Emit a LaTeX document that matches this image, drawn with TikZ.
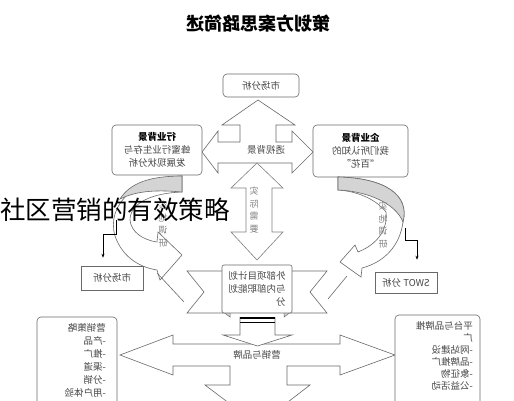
\documentclass[tikz,border=0pt]{standalone}
\usepackage{fontspec}
\setmainfont{Noto Sans CJK SC}
\usetikzlibrary{positioning,arrows.meta}
\definecolor{linegray}{RGB}{105,105,105}
\definecolor{textgray}{RGB}{70,70,70}
\definecolor{shadegray}{RGB}{212,212,212}

\begin{document}
\begin{tikzpicture}[x=1pt,y=-1pt,
  mirtext/.style={xscale=-1},
  txt/.style={mirtext,text=textgray,font=\fontsize{9.5}{13}\selectfont},
  rbox/.style={draw=linegray,rounded corners=4pt,fill=white,line width=0.6pt},
  sbox/.style={draw=linegray,fill=white,line width=0.6pt},
  blockarrow/.style={draw=linegray,fill=white,line width=0.6pt,line join=miter},
  curvearrow/.style={draw=linegray,fill=white,line width=0.6pt},
  vtext/.style={mirtext,text=gray,font=\fontsize{9}{12.5}\selectfont,align=center,inner sep=0pt},
  conn/.style={draw=black,line width=0.5pt,-{Stealth[length=4pt,width=3pt]}}]

  \clip (0,0) rectangle (514,400);
  \fill[white] (0,0) rectangle (514,400);

  % Title
  \node[mirtext,font=\fontsize{18}{20}\selectfont\bfseries] (title) at (258,24) {策划方案思路简述};

  % Top arrows
  \draw[blockarrow] (202,152) -- (218,131) -- (218,142) -- (240,142) -- (240,125) -- (222,125)
    -- (258,100) -- (295,125) -- (276,125) -- (276,142) -- (292,142) -- (292,131) -- (313,152)
    -- (292,173) -- (292,163) -- (218,163) -- (218,173) -- cycle;
  \node[txt] (look) at (266,150) {透视背景};
  \draw[blockarrow,draw=gray] (257,163) -- (283,188) -- (272,188) -- (272,232) -- (283,232)
    -- (257,260) -- (231,232) -- (246,232) -- (246,188) -- (231,188) -- cycle;
  \node[vtext] (need) at (254,210) {实\\际\\需\\要};

  % Boxes
  \node[rbox,txt,minimum width=76pt,minimum height=23pt] (mkt) at (261,85.5) {市场分析};
  \node[rbox,txt,align=center,minimum width=90pt,minimum height=50pt] (indbg) at (157,150)
    {\textbf{\color{black}行业背景}\\蜂蜜行业生存与\\发展现状分析};
  \node[rbox,txt,align=center,minimum width=95pt,minimum height=52pt] (corpbg) at (360.5,151)
    {\textbf{\color{black}企业背景}\\我们所认知的\\“百花”};

  % Curved arrows
  \draw[curvearrow] (182,176) .. controls (135,177) and (106,205) .. (115,236)
    .. controls (122,256) and (138,267) .. (157,270) -- (160,280) -- (182,255) -- (158,232)
    -- (157,242) .. controls (143,240) and (131,232) .. (130,220)
    .. controls (130,203) and (152,193) .. (182,192) -- cycle;
  \fill[shadegray,draw=linegray,line width=0.6pt] (182,176) .. controls (150,176) and (130,183) .. (120,199)
    .. controls (138,190) and (160,190) .. (182,192) -- cycle;
  \draw[linegray,line width=0.6pt] (157,273) -- (184,302);
  \node[vtext] (surveyL) at (163,224) {实\\地\\调\\研};

  \draw[curvearrow] (338,177) .. controls (385,178) and (410,195) .. (403,222)
    .. controls (400,245) and (385,262) .. (362,268) -- (361,277) -- (340,262) -- (355,245)
    -- (358,252) .. controls (378,244) and (388,229) .. (386,212)
    .. controls (375,198) and (355,191) .. (338,190) -- cycle;
  \fill[shadegray,draw=linegray,line width=0.6pt] (338,177) .. controls (385,178) and (410,195) .. (403,222)
    .. controls (395,202) and (365,191) .. (338,190) -- cycle;
  \draw[linegray,line width=0.6pt] (347,276) -- (328,299);
  \node[vtext] (surveyR) at (383,225) {实\\地\\调\\研};

  % Side boxes
  \node[sbox,txt,minimum width=62pt,minimum height=24pt] (mktL) at (112,278) {市场分析};
  \node[sbox,txt,minimum width=62pt,minimum height=21pt] (swot) at (406,282.5) {SWOT 分析};
  \coordinate (arcL) at (116,220);
  \coordinate (arcR) at (405,228);
  \draw[conn] (arcL) -- ++(0,14) -| ([xshift=-9pt,yshift=8pt]mktL.north);
  \draw[conn] (arcR) -- ++(0,12) -| ([xshift=11pt,yshift=12pt]swot.north);

  % Banner
  \draw[sbox] (230,271) -- (187,271) -- (204,292) -- (187,313) -- (230,313) -- cycle;
  \draw[sbox] (284,271) -- (327,271) -- (310,292) -- (327,313) -- (284,313) -- cycle;
  \fill[shadegray,draw=linegray,line width=0.5pt] (222,311) -- (230,317) -- (230,311) -- cycle;
  \fill[shadegray,draw=linegray,line width=0.5pt] (292,311) -- (284,317) -- (284,311) -- cycle;
  \node[sbox,rounded corners=2pt,txt,align=left,minimum width=70pt,minimum height=48pt] (plan)
    at (257,289) {外部项目计划\\与内部职能划\\分};

  % Lower arrows
  \draw[blockarrow] (120,355) -- (173,335) -- (173,344) -- (340,344) -- (340,335) -- (395,355)
    -- (340,375) -- (340,366) -- (287,366) -- (287,385) -- (310,385) -- (258,425) -- (205,385)
    -- (230,385) -- (230,366) -- (173,366) -- (173,375) -- cycle;
  \draw[blockarrow] (240,317) -- (240,335) -- (223,335) -- (257.5,346) -- (292,335) -- (275,335) -- (275,317);
  \draw[line width=1.6pt] (240,318) -- (275,318);
  \draw[line width=0.8pt] (240,322) -- (275,322);
  \node[txt] (brand) at (257,355) {营销与品牌};

  % Bottom boxes
  \draw[rbox] (37,317) rectangle (117,440);
  \node[txt,align=left,anchor=north west,inner sep=0pt] (stratL) at (106,323)
    {营销策略\\-产品\\-推广\\-渠道\\-分销\\-用户体验};
  \draw[rbox] (395,315) rectangle (480,440);
  \node[txt,align=left,anchor=north west,inner sep=0pt,font=\fontsize{9.5}{12}\selectfont] (stratR) at (473,321)
    {平台与品牌推\\广\\-网站建设\\-品牌推广\\-象征物\\-公益活动};

  % Overlay caption
  \node[font=\fontsize{25.5}{28}\selectfont,anchor=west,inner sep=0pt] (caption) at (0,210) {社区营销的有效策略};
\end{tikzpicture}
\end{document}
